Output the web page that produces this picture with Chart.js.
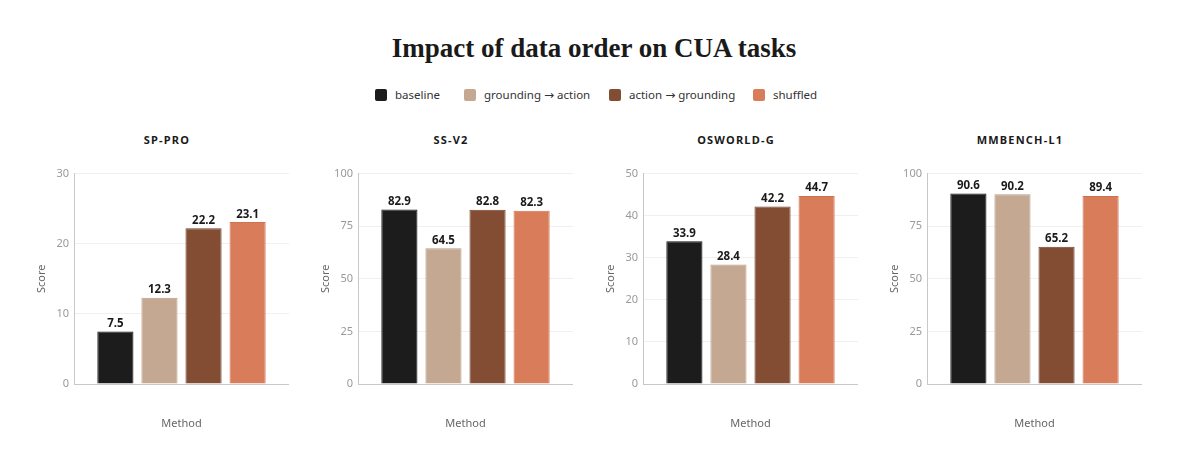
<!doctype html>
<html lang="en">
<head>
<meta charset="UTF-8">
<title>Impact of data order on CUA tasks</title>
<style>
  body { margin: 0; background: #fff; width: 1200px; height: 464px; position: relative; overflow: hidden; font-family: "Noto Sans", sans-serif; }
  #title { position: absolute; left: 0; width: 1188px; top: 33px; text-align: center; font-family: "Liberation Serif", serif; font-weight: bold; font-size: 27px; color: #1a1a1a; }
  .item { position: absolute; top: 87px; display: flex; align-items: center; font-size: 11.5px; color: #333; white-space: nowrap; }
  .item .sw { width: 12px; height: 12px; border-radius: 2px; margin-right: 8px; display: inline-block; }
  .item .arr { font-family: "DejaVu Sans", sans-serif; font-size: 12px; padding: 0 3px; }
  .ptitle { position: absolute; top: 132px; width: 200px; text-align: center; font-size: 11px; font-weight: bold; letter-spacing: 1.2px; color: #1a1a1a; }
  canvas { position: absolute; }
</style>
</head>
<body>
<div id="title">Impact of data order on CUA tasks</div>

<script src="https://cdn.jsdelivr.net/npm/chart.js@4"></script>
<script>
    const benchmarks = ['SP-PRO', 'SS-V2', 'OSWORLD-G', 'MMBENCH-L1'];
    const methods = ['baseline', 'grounding \u2192 action', 'action \u2192 grounding', 'shuffled'];
    const baseline = [7.5, 82.9, 33.9, 90.6];
    const groundingFirst = [12.3, 64.5, 28.4, 90.2];
    const actionFirst = [22.2, 82.8, 42.2, 65.2];
    const shuffled = [23.1, 82.3, 44.7, 89.4];
    const yMax = [30, 100, 50, 100];
    const yStep = [10, 25, 10, 25];

    const series = [baseline, groundingFirst, actionFirst, shuffled];
    const colors = ['#1c1c1c', '#c4a891', '#834d34', '#d97c5a'];
    const borders = ['#111111', '#b99d86', '#74412b', '#cf7150'];

    // legend, one item per method
    const legendX = [375, 464, 609, 753];
    methods.forEach((m, k) => {
        const it = document.createElement('div');
        it.className = 'item';
        it.style.left = legendX[k] + 'px';
        const sw = document.createElement('span');
        sw.className = 'sw';
        sw.style.background = colors[k];
        it.appendChild(sw);
        m.split(' \u2192 ').forEach((part, p) => {
            if (p > 0) {
                const a = document.createElement('span');
                a.className = 'arr';
                a.textContent = '\u2192';
                it.appendChild(a);
            }
            it.appendChild(document.createTextNode(part));
        });
        document.body.appendChild(it);
    });

    // value labels above bars
    const valueLabels = {
        id: 'valueLabels',
        afterDatasetsDraw(chart) {
            const ctx = chart.ctx;
            ctx.save();
            ctx.font = 'bold 11.5px "Noto Sans"';
            ctx.fillStyle = '#1a1a1a';
            ctx.textAlign = 'center';
            ctx.textBaseline = 'bottom';
            chart.data.datasets.forEach((ds, k) => {
                chart.getDatasetMeta(k).data.forEach((bar, j) => {
                    ctx.fillText(ds.data[j].toFixed(1), bar.x, bar.y - 2);
                });
            });
            ctx.restore();
        }
    };

    const lefts = [35, 319, 604, 888];
    benchmarks.forEach((name, i) => {
        const t = document.createElement('div');
        t.className = 'ptitle';
        t.textContent = name;
        t.style.left = (lefts[i] + 39 + 107 - 14 - 100) + 'px';
        document.body.appendChild(t);

        const c = document.createElement('canvas');
        c.width = 254; c.height = 268;
        c.style.left = lefts[i] + 'px';
        c.style.top = '162px';
        c.style.width = '254px'; c.style.height = '268px';
        document.body.appendChild(c);

        new Chart(c, {
            type: 'bar',
            data: {
                labels: ['Method'],
                datasets: methods.map((m, k) => ({
                    label: m,
                    data: [series[k][i]],
                    backgroundColor: colors[k],
                    borderColor: borders[k],
                    borderWidth: 1,
                    categoryPercentage: 0.82,
                    barPercentage: 0.82
                }))
            },
            options: {
                responsive: false,
                animation: false,
                layout: { padding: { top: 10, right: 0, bottom: 0, left: 0 } },
                plugins: { legend: { display: false }, tooltip: { enabled: false } },
                scales: {
                    x: {
                        grid: { display: false },
                        border: { color: '#c8c8c8' },
                        ticks: { display: false },
                        title: { display: true, text: 'Method', color: '#666', font: { family: 'Noto Sans', size: 11 }, padding: 0 },
                        afterFit(s) { s.height = 46; }
                    },
                    y: {
                        min: 0, max: yMax[i],
                        grid: { color: '#f0f0f0', drawTicks: false },
                        border: { color: '#c8c8c8' },
                        ticks: { stepSize: yStep[i], padding: 5, color: '#999', font: { family: 'Noto Sans', size: 11 } },
                        title: { display: true, text: 'Score', color: '#666', font: { family: 'Noto Sans', size: 11 }, padding: 0 },
                        afterFit(s) { s.width = 39; }
                    }
                }
            },
            plugins: [valueLabels]
        });
    });
</script>
</body>
</html>
